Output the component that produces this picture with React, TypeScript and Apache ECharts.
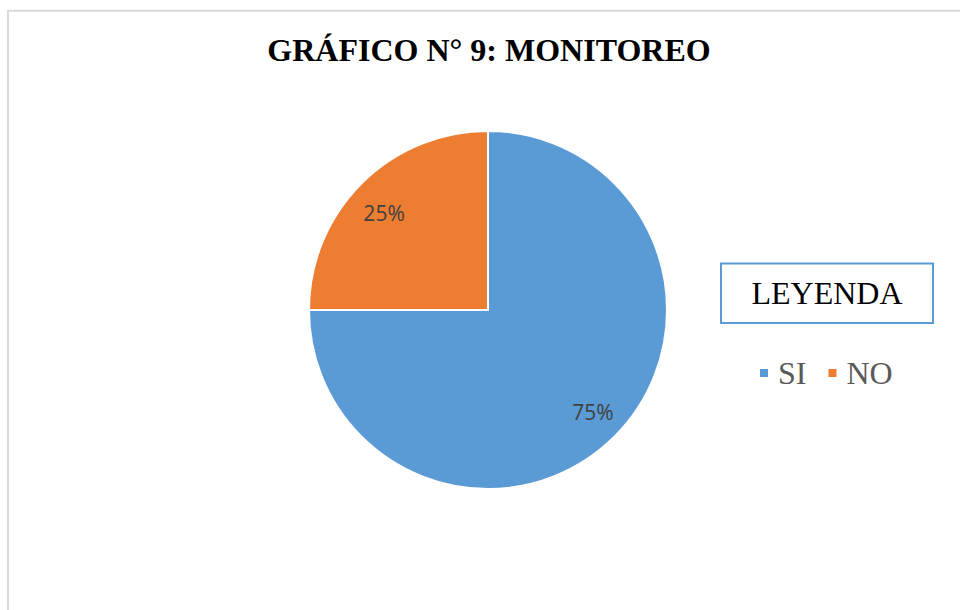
import React, { useEffect, useRef } from "react";
import * as echarts from "echarts";

const categories = ["SI", "NO"];
const values = [75, 25];
const colors = ["#5b9bd5", "#ed7d31"];
const titleText = "GRÁFICO N° 9: MONITOREO";
const legendTitle = "LEYENDA";
const labelOffsets = [
  [1, -2],
  [0, 7],
];

export default function App() {
  const ref = useRef<HTMLDivElement>(null);
  useEffect(() => {
    if (!ref.current) return;
    const chart = echarts.init(ref.current, undefined, { renderer: "svg" });
    const data = categories.map((c, i) => ({ name: c, value: values[i] }));
    const labelData = categories.map((c, i) => ({
      name: c,
      value: values[i],
      label: { offset: labelOffsets[i] },
    }));
    chart.setOption({
      animation: false,
      color: colors,
      graphic: [
        {
          type: "rect",
          shape: { x: 8, y: 10.8, width: 1000, height: 1000 },
          style: { fill: "none", stroke: "#d9d9d9", lineWidth: 2 },
          silent: true,
        },
        {
          type: "text",
          x: 489,
          y: 50,
          style: {
            text: titleText,
            fontFamily: "'Liberation Serif', 'Times New Roman', serif",
            fontWeight: "bold",
            fontSize: 32,
            fill: "#000",
            align: "center",
            verticalAlign: "middle",
          },
        },
        {
          type: "rect",
          shape: { x: 721, y: 263.5, width: 212, height: 59.5 },
          style: { fill: "#fff", stroke: "#5b9bd5", lineWidth: 2 },
        },
        {
          type: "text",
          x: 827,
          y: 292.5,
          style: {
            text: legendTitle,
            fontFamily: "'Liberation Serif', 'Times New Roman', serif",
            fontSize: 32,
            fill: "#000",
            align: "center",
            verticalAlign: "middle",
          },
        },
      ],
      legend: {
        data: categories,
        left: 758,
        top: 357,
        orient: "horizontal",
        padding: 0,
        icon: "rect",
        itemWidth: 10,
        itemHeight: 10,
        itemGap: 20,
        textStyle: {
          fontFamily: "'Liberation Serif', 'Times New Roman', serif",
          fontSize: 32,
          lineHeight: 32,
          color: "#595959",
          padding: [0, 0, 0, 4],
        },
      },
      series: [
        {
          type: "pie",
          center: [488, 310],
          radius: 179,
          startAngle: 90,
          clockwise: true,
          silent: true,
          data,
          label: { show: false },
          labelLine: { show: false },
          itemStyle: { borderColor: "#fff", borderWidth: 2 },
        },
        {
          type: "pie",
          center: [488, 310],
          radius: [110, 178],
          startAngle: 90,
          clockwise: true,
          silent: true,
          data: labelData,
          itemStyle: { color: "transparent" },
          label: {
            show: true,
            position: "inside",
            formatter: "{d}%",
            fontFamily: "'Open Sans', sans-serif",
            fontSize: 21,
            color: "#404040",
          },
          labelLine: { show: false },
        },
      ],
    });
    return () => chart.dispose();
  }, []);
  return (
    <div
      ref={ref}
      style={{ position: "fixed", left: 0, top: 0, width: 960, height: 610, background: "#fff" }}
    />
  );
}
